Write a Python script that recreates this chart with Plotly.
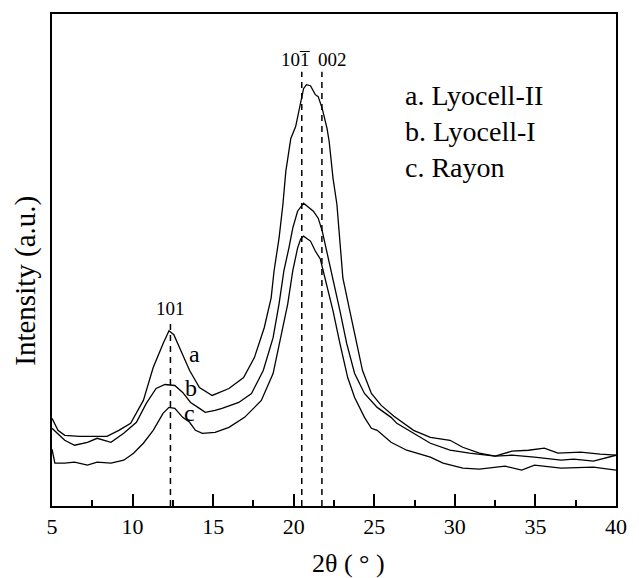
import plotly.graph_objects as go

# ---- data (2θ in degrees, intensity in arbitrary units) ----
theta_a = [5.00, 5.37, 5.79, 6.71, 7.62, 8.41, 9.15, 9.88, 10.67, 11.28, 11.89, 12.26, 12.56, 12.93,
           13.54, 14.15, 14.94, 15.98, 16.89, 17.56, 18.17, 18.60, 18.78, 19.09, 19.33, 19.51, 19.82,
           20.12, 20.37, 20.61, 20.79, 21.04, 21.34, 21.52, 21.77, 22.07, 22.20, 22.44, 22.68, 22.87,
           22.99, 23.05, 23.48, 23.90, 24.27, 24.82, 25.43, 26.22, 27.44, 28.48, 29.70, 30.49, 31.52,
           32.50, 33.54, 34.57, 35.55, 36.40, 37.80, 39.02, 40.00]
int_a = [88, 76, 71, 70, 70, 70, 76, 83, 106, 139, 163, 176, 172, 159,
         136, 119, 111, 118, 129, 149, 179, 209, 236, 269, 303, 336, 369,
         381, 401, 419, 423, 422, 413, 411, 399, 379, 366, 329, 303, 269,
         246, 229, 196, 163, 136, 113, 101, 90, 76, 69, 66, 59, 53,
         50, 55, 56, 58, 53, 54, 52, 51]

theta_b = [5.00, 5.79, 6.40, 7.20, 7.80, 8.66, 9.45, 10.24, 10.85, 11.46, 12.01, 12.62, 13.11, 13.60,
           14.15, 14.51, 15.12, 15.55, 16.59, 17.38, 18.11, 18.72, 19.09, 19.39, 19.70, 19.94, 20.24,
           20.61, 21.22, 21.52, 21.77, 21.95, 22.13, 22.44, 22.87, 23.29, 23.78, 24.39, 25.18, 26.04,
           26.40, 27.44, 28.48, 29.70, 30.91, 32.50, 33.54, 34.94, 36.59, 37.38, 38.60, 40.00]
int_b = [78, 66, 61, 64, 68, 64, 73, 84, 103, 118, 122, 121, 114, 104,
         98, 94, 96, 98, 104, 113, 136, 169, 203, 236, 259, 279, 296,
         304, 296, 289, 276, 263, 251, 229, 196, 163, 133, 113, 99, 89,
         83, 73, 63, 56, 53, 50, 51, 49, 46, 47, 45, 51]

theta_c = [5.00, 5.18, 5.79, 6.40, 7.20, 7.80, 8.66, 9.45, 10.06, 10.67, 11.28, 11.89, 12.26, 12.62,
           13.11, 13.54, 13.90, 14.33, 15.12, 15.98, 16.95, 17.99, 18.72, 19.21, 19.63, 19.94, 20.06,
           20.24, 20.43, 20.61, 21.04, 21.34, 21.65, 21.95, 22.44, 22.87, 23.35, 23.78, 24.39, 24.82,
           25.18, 26.04, 27.01, 28.48, 29.27, 30.49, 31.52, 33.11, 34.15, 34.94, 36.59, 38.60, 40.00]
int_c = [57, 43, 43, 44, 41, 44, 43, 46, 53, 63, 76, 93, 99, 98,
         89, 84, 76, 73, 74, 79, 89, 106, 133, 169, 203, 236, 246,
         259, 268, 271, 266, 256, 248, 229, 196, 163, 129, 109, 89, 78,
         76, 64, 56, 49, 43, 38, 37, 40, 36, 41, 38, 39, 36]

# reflection positions (2θ) and labels
peak_pos = [12.35, 20.5, 21.75]
peak_top = [186, 436, 436]
peak_labels = ["101", "101", "002"]
peak_label_x = [12.38, 20.12, 22.38]
peak_label_y = [198, 448, 448]
bar_x = 20.64          # overline on the last index of the (1 0 -1) reflection
bar_y = 449

curve_labels = ["a", "b", "c"]
curve_label_x = [13.84, 13.62, 13.55]
curve_label_y = [153, 118, 93]

legend_lines = ["a. Lyocell-II", "b. Lyocell-I", "c. Rayon"]

x_ticks = [5, 10, 15, 20, 25, 30, 35, 40]

FONT = "Liberation Serif, Times New Roman, serif"

fig = go.Figure()
for th, yy in [(theta_a, int_a), (theta_b, int_b), (theta_c, int_c)]:
    fig.add_trace(go.Scatter(x=th, y=yy, mode="lines",
                             line=dict(color="black", width=1.3),
                             showlegend=False, hoverinfo="skip"))

for xp, yt in zip(peak_pos, peak_top):
    fig.add_shape(type="line", xref="x", yref="y", x0=xp, x1=xp, y0=0, y1=yt,
                  line=dict(color="black", width=1.5, dash="6px,5px"))

annotations = []
for t, xx, yy in zip(peak_labels, peak_label_x, peak_label_y):
    annotations.append(dict(x=xx, y=yy, xref="x", yref="y", text=t, showarrow=False,
                            font=dict(family=FONT, size=19, color="black"),
                            xanchor="center", yanchor="middle"))
annotations.append(dict(x=bar_x, y=bar_y, xref="x", yref="y", text="\u00af", showarrow=False,
                        font=dict(family=FONT, size=19, color="black"),
                        xanchor="center", yanchor="middle"))
for t, xx, yy in zip(curve_labels, curve_label_x, curve_label_y):
    annotations.append(dict(x=xx, y=yy, xref="x", yref="y", text=t, showarrow=False,
                            font=dict(family=FONT, size=24, color="black"),
                            xanchor="center", yanchor="middle"))
for i, t in enumerate(legend_lines):
    annotations.append(dict(x=0.622, y=0.834 - i * 0.0725, xref="paper", yref="paper", text=t,
                            showarrow=False, font=dict(family=FONT, size=28, color="black"),
                            xanchor="left", yanchor="middle"))
annotations.append(dict(x=-0.046, y=0.458, xref="paper", yref="paper", text="Intensity (a.u.)",
                        textangle=-90, showarrow=False,
                        font=dict(family=FONT, size=29, color="black"),
                        xanchor="center", yanchor="middle"))
annotations.append(dict(x=0.526, y=-0.116, xref="paper", yref="paper", text="2θ ( ° )",
                        showarrow=False, font=dict(family=FONT, size=26, color="black"),
                        xanchor="center", yanchor="middle"))

fig.update_layout(
    width=639, height=578,
    margin=dict(l=52, r=13, t=12, b=72),
    paper_bgcolor="white", plot_bgcolor="white",
    annotations=annotations,
    xaxis=dict(range=[5, 40], tickvals=x_ticks, ticktext=[str(v) for v in x_ticks],
               ticks="inside", ticklen=12, tickwidth=2, tickcolor="black",
               minor=dict(ticks="inside", ticklen=6, tickwidth=1.5, tickcolor="black",
                          tick0=7.5, dtick=5),
               showline=True, linecolor="black", linewidth=2, mirror=True,
               showgrid=False, zeroline=False,
               tickfont=dict(family=FONT, size=22, color="black")),
    yaxis=dict(range=[0, 494], showticklabels=False, ticks="",
               showline=True, linecolor="black", linewidth=2, mirror=True,
               showgrid=False, zeroline=False),
)

# remove the default 8px page margin so the figure fills the window exactly
fig.write_html("out.html",
               config={"displayModeBar": False},
               post_script="document.body.style.margin='0px';"
                           "document.body.style.overflow='hidden';")
